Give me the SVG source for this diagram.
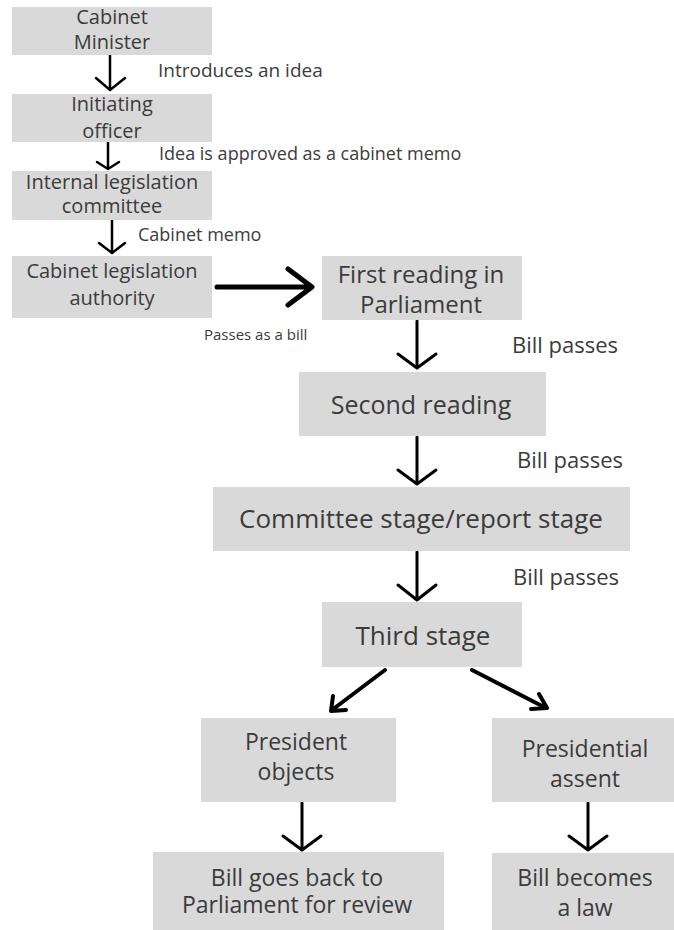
<svg xmlns="http://www.w3.org/2000/svg" width="674" height="930" viewBox="0 0 674 930">
<style>
.box{fill:#d9d9d9}
text{font-family:"Open Sans","DejaVu Sans",sans-serif;fill:#3b3b3b}
.t20{font-size:20px;text-anchor:middle}
.t24{font-size:24px;text-anchor:middle}
.t26{font-size:26px;text-anchor:middle}
.t23{font-size:23px;text-anchor:middle}
.lbl{font-size:18px}
.lbl22{font-size:22px}
.c{fill:none;stroke:#000;stroke-linecap:round;stroke-linejoin:round}
</style>
<rect width="674" height="930" fill="#ffffff"/>
<g id="connectors">
<path class="c" stroke-width="2.5" d="M110 55V89M96 78L110 90L125 78"/>
<path class="c" stroke-width="2.5" d="M108 142V168M97 162L108 169L119 162"/>
<path class="c" stroke-width="2.5" d="M112 220V252M99 243L112 253L125 243"/>
<path class="c" stroke-width="5" d="M217 287H310M288 269L312 287L288 305"/>
<path class="c" stroke-width="3" d="M417 321V367M398 354L417 368L436 354"/>
<path class="c" stroke-width="3" d="M417 437V483M398 470L417 484L436 470"/>
<path class="c" stroke-width="3" d="M417 552V599M398 585L417 600L436 585"/>
<path class="c" stroke-width="4" d="M385 670L332 710M333 696L331 711L346 710"/>
<path class="c" stroke-width="4" d="M472 670L546 708M539 694L547 708L531 709"/>
<path class="c" stroke-width="3" d="M302 803V849M283 836L302 850L321 836"/>
<path class="c" stroke-width="3" d="M588 803V849M569 836L588 850L607 836"/>
<text class="lbl" x="158" y="77" style="font-size:19px">Introduces an idea</text>
<text class="lbl" x="159" y="160">Idea is approved as a cabinet memo</text>
<text class="lbl" x="138" y="241">Cabinet memo</text>
<text x="204" y="340" style="font-size:15px">Passes as a bill</text>
<text class="lbl22" x="512" y="353">Bill passes</text>
<text class="lbl22" x="517" y="468">Bill passes</text>
<text class="lbl22" x="513" y="585">Bill passes</text>
</g>
<g id="cabinet-minister">
<rect class="box" x="12" y="7" width="200" height="48"/>
<text class="t20" x="112" y="24">Cabinet</text>
<text class="t20" x="112" y="49">Minister</text>
</g>
<g id="initiating-officer">
<rect class="box" x="12" y="94" width="200" height="48"/>
<text class="t20" x="112" y="111">Initiating</text>
<text class="t20" x="112" y="138">officer</text>
</g>
<g id="internal-committee">
<rect class="box" x="12" y="171" width="200" height="49"/>
<text class="t20" x="112" y="189">Internal legislation</text>
<text class="t20" x="112" y="213">committee</text>
</g>
<g id="cabinet-authority">
<rect class="box" x="12" y="256" width="200" height="62"/>
<text class="t20" x="112" y="278">Cabinet legislation</text>
<text class="t20" x="112" y="305">authority</text>
</g>
<g id="first-reading">
<rect class="box" x="322" y="256" width="200" height="64"/>
<text class="t24" x="421" y="283">First reading in</text>
<text class="t24" x="421" y="313">Parliament</text>
</g>
<g id="second-reading">
<rect class="box" x="299" y="372" width="247" height="64"/>
<text class="t24" x="421" y="414" style="font-size:25px">Second reading</text>
</g>
<g id="committee-stage">
<rect class="box" x="213" y="487" width="417" height="64"/>
<text class="t26" x="421" y="528">Committee stage/report stage</text>
</g>
<g id="third-stage">
<rect class="box" x="322" y="602" width="200" height="65"/>
<text class="t26" x="423" y="645">Third stage</text>
</g>
<g id="president-objects">
<rect class="box" x="201" y="718" width="195" height="84"/>
<text class="t23" x="296" y="750">President</text>
<text class="t23" x="296" y="780">objects</text>
</g>
<g id="presidential-assent">
<rect class="box" x="492" y="718" width="182" height="84"/>
<text class="t23" x="585" y="757">Presidential</text>
<text class="t23" x="585" y="787">assent</text>
</g>
<g id="bill-back">
<rect class="box" x="153" y="852" width="291" height="78"/>
<text class="t23" x="297" y="886">Bill goes back to</text>
<text class="t23" x="297" y="913">Parliament for review</text>
</g>
<g id="bill-law">
<rect class="box" x="492" y="853" width="182" height="77"/>
<text class="t23" x="585" y="886">Bill becomes</text>
<text class="t23" x="585" y="916">a law</text>
</g>
</svg>
